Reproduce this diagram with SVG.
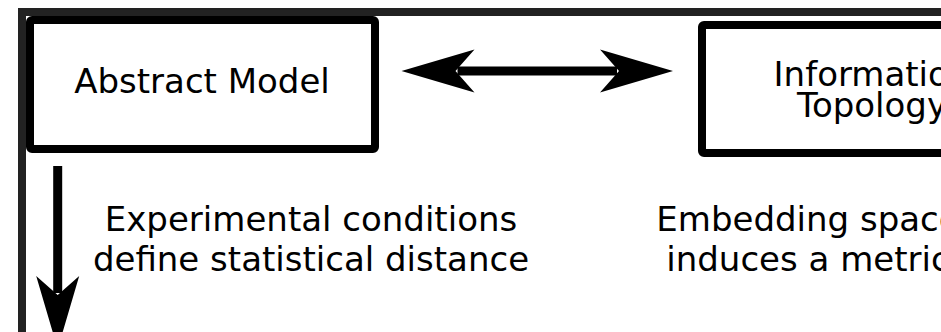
<svg xmlns="http://www.w3.org/2000/svg" width="941" height="332" viewBox="0 0 941 332">
  <style>
    .frame { fill: none; stroke: #222222; stroke-width: 8; }
    .box { fill: #ffffff; stroke: #000000; stroke-width: 8; stroke-linejoin: round; }
    .label { font-family: "DejaVu Sans", Verdana, sans-serif; font-size: 34px; fill: #000000; text-anchor: middle; }
    .shaft { stroke: #000000; stroke-width: 9; fill: none; }
  </style>
  <defs>
    <marker id="head" markerUnits="userSpaceOnUse" markerWidth="160" markerHeight="60" viewBox="-20 -30 80 60" refX="0" refY="0" orient="auto-start-reverse" overflow="visible">
      <path d="M56,0 L-17,-21.5 L2,0 L-17,21.5 Z" fill="#000000"/>
    </marker>
  </defs>

  <rect width="941" height="332" fill="#ffffff"/>

  <!-- outer panel border, continuing past the right and bottom edges -->
  <rect class="frame" x="22" y="12" width="1100" height="500"/>

  <g id="abstract-model">
    <rect class="box" x="30" y="20" width="345" height="129" rx="2"/>
    <text class="label" x="202" y="93">Abstract Model</text>
  </g>

  <g id="information-topology">
    <rect class="box" x="702" y="25" width="340" height="128" rx="2"/>
    <text class="label" x="872" y="86">Information</text>
    <text class="label" x="872" y="117">Topology</text>
  </g>

  <g id="experimental-note">
    <text class="label" x="311" y="231">Experimental conditions</text>
    <text class="label" x="311" y="271">define statistical distance</text>
  </g>

  <g id="embedding-note">
    <text class="label" x="808" y="231">Embedding space</text>
    <text class="label" x="808" y="271">induces a metric</text>
  </g>

  <g id="connectors">
    <line class="shaft" x1="457.5" y1="71" x2="617" y2="71" marker-start="url(#head)" marker-end="url(#head)"/>
    <line class="shaft" x1="57.7" y1="166" x2="57.7" y2="293" marker-end="url(#head)"/>
  </g>
</svg>
